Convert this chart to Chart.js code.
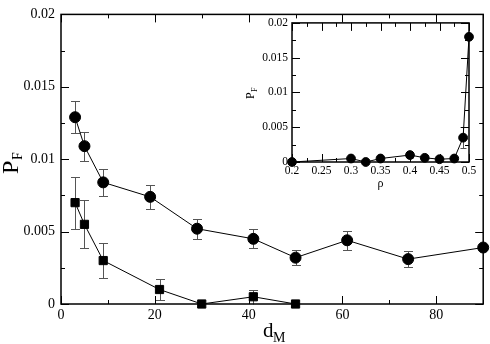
<!DOCTYPE html>
<html>
<head>
<meta charset="utf-8">
<script src="https://cdn.jsdelivr.net/npm/chart.js@4"></script>
<style>
  body { margin: 0; background: #fff; }
  #wrap { position: relative; width: 490px; height: 344px; background: #fff; }
  #inset { position: absolute; left: 240px; top: 12px; }
</style>
</head>
<body>
<div id="wrap">
  <canvas id="main" width="490" height="344"></canvas>
  <canvas id="inset" width="240" height="185"></canvas>
</div>
<script>
// main plot: P_F vs d_M
const dmCircle = [3, 5, 9, 19, 29, 41, 50, 61, 74, 90];
const pfCircle = [0.0129, 0.0109, 0.0084, 0.0074, 0.0052, 0.0045, 0.0032, 0.0044, 0.0031, 0.0039];
const errCircle = [0.0011, 0.001, 0.00093, 0.00082, 0.0007, 0.00065, 0.00053, 0.00066, 0.00053, 0];

const dmSquare = [3, 5, 9, 21, 30, 41, 50];
const pfSquare = [0.007, 0.0055, 0.003, 0.001, 0, 0.0005, 0];
const errSquare = [0.0018, 0.00165, 0.0012, 0.0007, 0, 0.0005, 0];

const mainXTicks = [0, 20, 40, 60, 80];
const mainYTicks = [0, 0.005, 0.01, 0.015, 0.02];

// inset: P_F vs rho
const rho = [0.2, 0.3, 0.325, 0.35, 0.4, 0.425, 0.45, 0.475, 0.49, 0.5];
const pfRho = [0, 0.0005, 0, 0.0005, 0.001, 0.0006, 0.0004, 0.0005, 0.0035, 0.018];
const errRho = [0, 0.0003, 0, 0.0002, 0.0004, 0.0002, 0.0002, 0.0002, 0.0015, 0];

const insetXTicks = [0.2, 0.25, 0.3, 0.35, 0.4, 0.45, 0.5];
const insetYTicks = [0, 0.005, 0.01, 0.015, 0.02];

Chart.defaults.font.family = "'Liberation Serif', 'DejaVu Serif', serif";
Chart.defaults.color = '#000';

const pts = (xs, ys) => xs.map((x, i) => ({ x, y: ys[i] }));
const steps = (from, to, n) => Array.from({ length: n + 1 }, (_, i) => from + (to - from) * i / n);
const serif = s => s + "px 'Liberation Serif', serif";

// frame with inward ticks on all four sides + error bars
const framePlugin = {
  id: 'frame',
  beforeDatasetsDraw(chart, args, o) {
    const { ctx, chartArea: a, scales: { x, y } } = chart;
    ctx.save();
    ctx.strokeStyle = '#555';
    ctx.lineWidth = 1;
    chart.data.datasets.forEach(ds => {
      if (!ds.err) return;
      ds.data.forEach((p, i) => {
        const e = ds.err[i];
        if (!e) return;
        const px = Math.round(x.getPixelForValue(p.x)) + 0.5;
        const top = Math.round(y.getPixelForValue(p.y + e)) + 0.5;
        const bot = Math.round(y.getPixelForValue(Math.max(0, p.y - e))) + 0.5;
        ctx.beginPath();
        ctx.moveTo(px, top); ctx.lineTo(px, bot);
        ctx.moveTo(px - o.cap, top); ctx.lineTo(px + o.cap, top);
        if (p.y - e > 0) { ctx.moveTo(px - o.cap, bot); ctx.lineTo(px + o.cap, bot); }
        ctx.stroke();
      });
    });

    ctx.strokeStyle = '#000';
    ctx.beginPath();
    o.xt.forEach((v, i) => {
      const len = i % 2 === 0 ? o.major : o.minor;
      const px = Math.round(x.getPixelForValue(v)) + 0.5;
      ctx.moveTo(px, a.bottom); ctx.lineTo(px, a.bottom - len);
      ctx.moveTo(px, a.top); ctx.lineTo(px, a.top + len);
    });
    o.yt.forEach((v, i) => {
      const len = i % 2 === 0 ? o.major : o.minor;
      const py = Math.round(y.getPixelForValue(v)) + 0.5;
      ctx.moveTo(a.left, py); ctx.lineTo(a.left + len, py);
      ctx.moveTo(a.right, py); ctx.lineTo(a.right - len, py);
    });
    ctx.stroke();

    ctx.lineWidth = 1.5;
    ctx.strokeRect(a.left, a.top, a.right - a.left, a.bottom - a.top);
    ctx.restore();
  },
  afterDraw(chart, args, o) {
    const { ctx, chartArea: a } = chart;
    ctx.save();
    ctx.fillStyle = '#000';
    o.titles(ctx, a);
    ctx.restore();
  }
};

new Chart(document.getElementById('main'), {
  type: 'scatter',
  data: {
    datasets: [
      {
        data: pts(dmCircle, pfCircle), err: errCircle,
        showLine: true, borderColor: '#000', borderWidth: 1,
        pointStyle: 'circle', pointRadius: 5.5,
        pointBackgroundColor: '#000', pointBorderColor: '#000', clip: false
      },
      {
        data: pts(dmSquare, pfSquare), err: errSquare,
        showLine: true, borderColor: '#000', borderWidth: 1,
        pointStyle: 'rect', pointRadius: 5.8,
        pointBackgroundColor: '#000', pointBorderColor: '#000', clip: false
      }
    ]
  },
  options: {
    responsive: false, animation: false,
    layout: { padding: { top: 6, right: 6, left: 0, bottom: 0 } },
    plugins: {
      legend: { display: false }, tooltip: { enabled: false },
      frame: {
        cap: 4.5, major: 8, minor: 4,
        xt: steps(0, 90, 9),
        yt: steps(0, 0.02, 8),
        titles(ctx, a) {
          ctx.save();
          ctx.translate(18, 174);
          ctx.rotate(-Math.PI / 2);
          ctx.font = serif(24);
          ctx.fillText('P', 0, 0);
          ctx.font = serif(14);
          ctx.fillText('F', 14, 4);
          ctx.restore();
          ctx.font = serif(21);
          ctx.fillText('d', 263, 337);
          ctx.font = serif(14);
          ctx.fillText('M', 273, 342);
        }
      }
    },
    scales: {
      x: {
        type: 'linear', min: 0, max: 90,
        afterBuildTicks: s => { s.ticks = mainXTicks.map(value => ({ value })); },
        afterFit: s => { s.height = 40; },
        grid: { display: false, drawTicks: false }, border: { display: false },
        ticks: { font: { size: 14 }, padding: 3, maxRotation: 0 }
      },
      y: {
        min: 0, max: 0.02,
        afterBuildTicks: s => { s.ticks = mainYTicks.map(value => ({ value })); },
        afterFit: s => { s.width = 61; },
        grid: { display: false, drawTicks: false }, border: { display: false },
        ticks: { font: { size: 14 }, padding: 6, callback: v => String(+v.toFixed(3)) }
      }
    }
  },
  plugins: [framePlugin]
});

new Chart(document.getElementById('inset'), {
  type: 'scatter',
  data: {
    datasets: [{
      data: pts(rho, pfRho), err: errRho,
      showLine: true, borderColor: '#000', borderWidth: 1,
      pointStyle: 'circle', pointRadius: 4.4,
      pointBackgroundColor: '#000', pointBorderColor: '#000', clip: false
    }]
  },
  options: {
    responsive: false, animation: false,
    layout: { padding: { top: 10, right: 11, left: 0, bottom: 0 } },
    plugins: {
      legend: { display: false }, tooltip: { enabled: false },
      frame: {
        cap: 3, major: 8, minor: 4,
        xt: steps(0.2, 0.5, 12),
        yt: steps(0, 0.02, 8),
        titles(ctx, a) {
          ctx.save();
          ctx.translate(14, 87);
          ctx.rotate(-Math.PI / 2);
          ctx.font = serif(12);
          ctx.fillText('P', 0, 0);
          ctx.font = serif(8);
          ctx.fillText('F', 7, 3);
          ctx.restore();
          ctx.font = serif(12);
          ctx.textAlign = 'center';
          ctx.fillText('ρ', (a.left + a.right) / 2, 175);
        }
      }
    },
    scales: {
      x: {
        type: 'linear', min: 0.2, max: 0.5,
        afterBuildTicks: s => { s.ticks = insetXTicks.map(value => ({ value })); },
        afterFit: s => { s.height = 35; },
        grid: { display: false, drawTicks: false }, border: { display: false },
        ticks: { font: { size: 11.5 }, padding: 2, maxRotation: 0, callback: v => String(+v.toFixed(2)) }
      },
      y: {
        min: 0, max: 0.02,
        afterBuildTicks: s => { s.ticks = insetYTicks.map(value => ({ value })); },
        afterFit: s => { s.width = 52; },
        grid: { display: false, drawTicks: false }, border: { display: false },
        ticks: { font: { size: 11.5 }, padding: 4, callback: v => String(+v.toFixed(3)) }
      }
    }
  },
  plugins: [framePlugin]
});
</script>
</body>
</html>
